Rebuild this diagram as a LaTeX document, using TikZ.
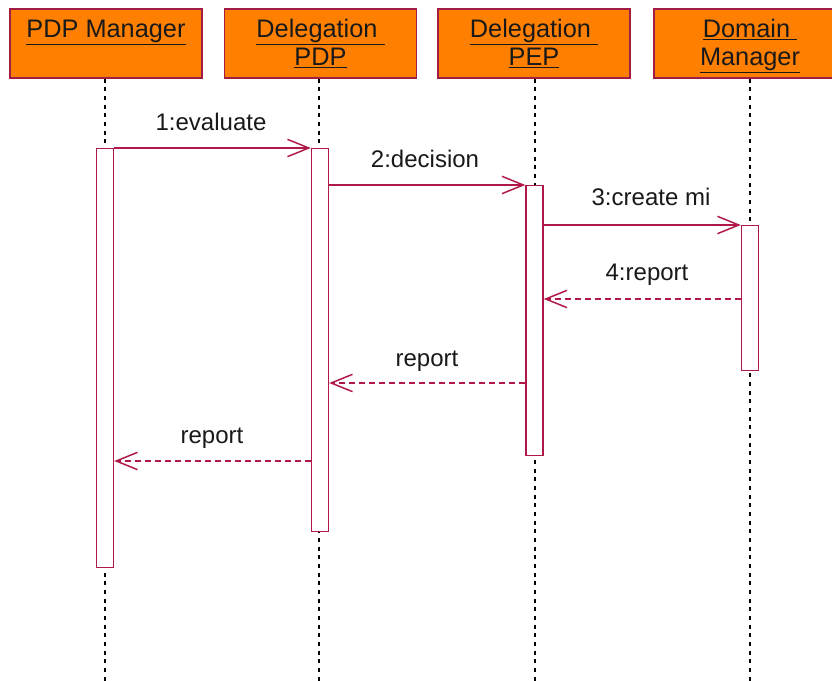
\documentclass[tikz,border=0pt]{standalone}
\usepackage{fontspec}
\setmainfont{Liberation Sans}
\usetikzlibrary{arrows.meta}
\definecolor{crim}{RGB}{176,24,72}
\definecolor{hdrfill}{RGB}{255,128,0}
\definecolor{hdrline}{RGB}{160,30,70}
\definecolor{txt}{RGB}{25,25,25}
\newcommand{\ul}[1]{\underline{#1}}
\begin{document}
\begin{tikzpicture}[x=0.75pt,y=-0.75pt,
  hdr/.style={draw=hdrline, line width=1.1pt, fill=hdrfill, minimum width=144pt, minimum height=51.75pt, inner sep=0pt},
  hdrtxt/.style={anchor=north, inner sep=0pt, align=center, text=txt, font=\fontsize{19}{21}\selectfont},
  bar/.style={draw=crim, line width=1.1pt, fill=white, minimum width=12.75pt, inner sep=0pt, anchor=north},
  life/.style={draw=black, line width=1pt, dash pattern=on 3pt off 3.5pt},
  call/.style={draw=crim, line width=1.1pt, -{Straight Barb[length=16pt,width=13pt,line width=1.1pt]}},
  ret/.style={call, dash pattern=on 4.5pt off 3pt},
  lbl/.style={anchor=base, inner sep=0pt, text=txt, font=\fontsize{18}{21}\selectfont}]
\clip (0,0) rectangle (832,681);
\fill[white] (0,0) rectangle (832,681);
% headers
\node[hdr] (h1) at (106,43.5) {};
\node[hdr] (h2) at (320.5,43.5) {};
\node[hdr] (h3) at (534,43.5) {};
\node[hdr] (h4) at (750,43.5) {};
\node[hdrtxt] (t1) at (106,17.4) {\strut\ul{PDP Manager}};
\node[hdrtxt] (t2) at (320.5,17.4) {\strut\ul{Delegation\ }\\\strut\ul{PDP}};
\node[hdrtxt] (t3) at (534,17.4) {\strut\ul{Delegation\ }\\\strut\ul{PEP}};
\node[hdrtxt] (t4) at (750,17.4) {\strut\ul{Domain\ }\\\strut\ul{Manager}};
% lifelines
\coordinate (e1) at (105,681);
\coordinate (e2) at (319,681);
\coordinate (e3) at (535,681);
\coordinate (e4) at (750,681);
\draw[life] (h1.south -| e1) -- (e1);
\draw[life] (h2.south -| e2) -- (e2);
\draw[life] (h3.south -| e3) -- (e3);
\draw[life] (h4.south -| e4) -- (e4);
% activation bars
\node[bar, minimum height=314.25pt] (a1) at (105,148) {};
\node[bar, minimum height=287.25pt] (a2) at (320,148) {};
\node[bar, minimum height=202.5pt] (a3) at (534.5,185) {};
\node[bar, minimum height=108.75pt] (a4) at (750,225) {};
% messages
\draw[call] (a1.north east) -- (a2.north west);
\draw[call] (a2.east |- a3.north) -- (a3.north west);
\draw[call] (a3.east |- a4.north) -- (a4.north west);
\draw[ret] (a4.west |- 0,299) -- (a3.east |- 0,299);
\draw[ret] (a3.west |- 0,383) -- (a2.east |- 0,383);
\draw[ret] (a2.west |- 0,461) -- (a1.east |- 0,461);
% labels
\node[lbl] (l1) at (211,131) {1:evaluate};
\node[lbl] (l2) at (425,168) {2:decision};
\node[lbl] (l3) at (651,206) {3:create mi};
\node[lbl] (l4) at (647,280) {4:report};
\node[lbl] (l5) at (427,366) {report};
\node[lbl] (l6) at (212,443) {report};
\end{tikzpicture}
\end{document}
